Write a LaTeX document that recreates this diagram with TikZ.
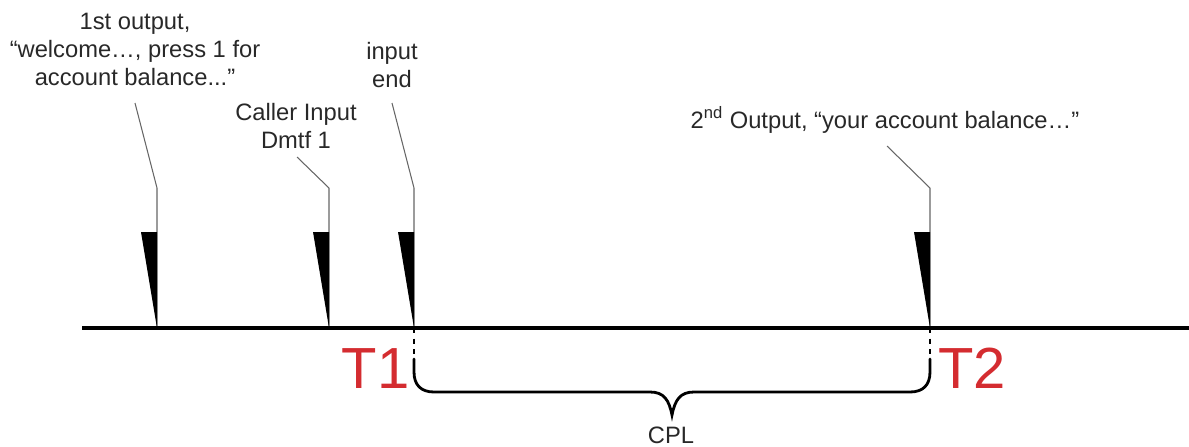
\documentclass[tikz,border=0pt]{standalone}
\usepackage{fontspec}
\setmainfont{Liberation Sans}
\usepackage{xcolor}
\usetikzlibrary{positioning}

\definecolor{tred}{RGB}{212,44,48}
\definecolor{ink}{RGB}{40,40,40}

\begin{document}
\begin{tikzpicture}[
    x=0.2mm, y=-0.2mm,
    lbl/.style={font=\fontsize{13.5pt}{16pt}\selectfont, text=ink,
                align=center, inner sep=0pt},
    tname/.style={font=\fontsize{33pt}{36pt}\selectfont, text=tred, inner sep=0pt},
    lead/.style={draw=black!60, line width=0.6pt},
    wedge/.style={fill=black},
    axis/.style={line width=2.4pt},
    brace/.style={line width=1.6pt, line cap=round}
  ]
  \useasboundingbox (0,0) rectangle (1189,446);

  % time line and event points
  \coordinate (start) at (82,328);
  \coordinate (stop)  at (1189,328);
  \coordinate (ev1) at (157,328);
  \coordinate (ev2) at (329,328);
  \coordinate (ev3) at (414,328);
  \coordinate (ev4) at (930,328);

  % labels
  \node[lbl, anchor=north] (out1) at (135,13)
    {1st output,\\``welcome\dots, press 1 for\\account balance...''};
  \node[lbl, anchor=north] (dtmf) at (296,103) {Caller Input\\Dmtf 1};
  \node[lbl, anchor=north] (iend) at (392,42) {input\\end};
  \node[lbl, anchor=base]  (out2) at (885,128)
    {2\textsuperscript{nd} Output, ``your account balance\dots''};

  % leader ends
  \coordinate (l1) at (135,103);
  \coordinate (l2) at (297,157);
  \coordinate (l3) at (392,103);
  \coordinate (l4) at (887,146);

  \draw[lead] (l1) -- (157,188) -- (ev1);
  \draw[lead] (l2) -- (329,188) -- (ev2);
  \draw[lead] (l3) -- (414,188) -- (ev3);
  \draw[lead] (l4) -- (930,188) -- (ev4);

  % wedges
  \fill[wedge] (ev1) -- (141,232) -- (157,232) -- cycle;
  \fill[wedge] (ev2) -- (313,232) -- (329,232) -- cycle;
  \fill[wedge] (ev3) -- (398,232) -- (414,232) -- cycle;
  \fill[wedge] (ev4) -- (914,232) -- (930,232) -- cycle;

  \draw[axis] (start) -- (stop);

  % T1 / T2 and the CPL brace
  \node[tname, anchor=base east] (T1) at (410,388) {T1};
  \node[tname, anchor=base west] (T2) at (938,388) {T2};

  \coordinate (c1) at (414,359);
  \coordinate (c2) at (930,359);
  \coordinate (dip) at (672,415);

  \draw[dashed, line width=0.6pt] (ev3) -- (c1);
  \draw[dashed, line width=0.6pt] (ev4) -- (c2);

  \draw[brace] (c1) -- (414,372) .. controls (414,385) and (421,392) .. (434,392)
    -- (650,392) .. controls (664,392) and (669,400) .. (dip)
    .. controls (675,400) and (680,392) .. (694,392)
    -- (910,392) .. controls (923,392) and (930,385) .. (930,372) -- (c2);

  \node[lbl, anchor=base] (cpl) at (671,443) {CPL};
\end{tikzpicture}
\end{document}
